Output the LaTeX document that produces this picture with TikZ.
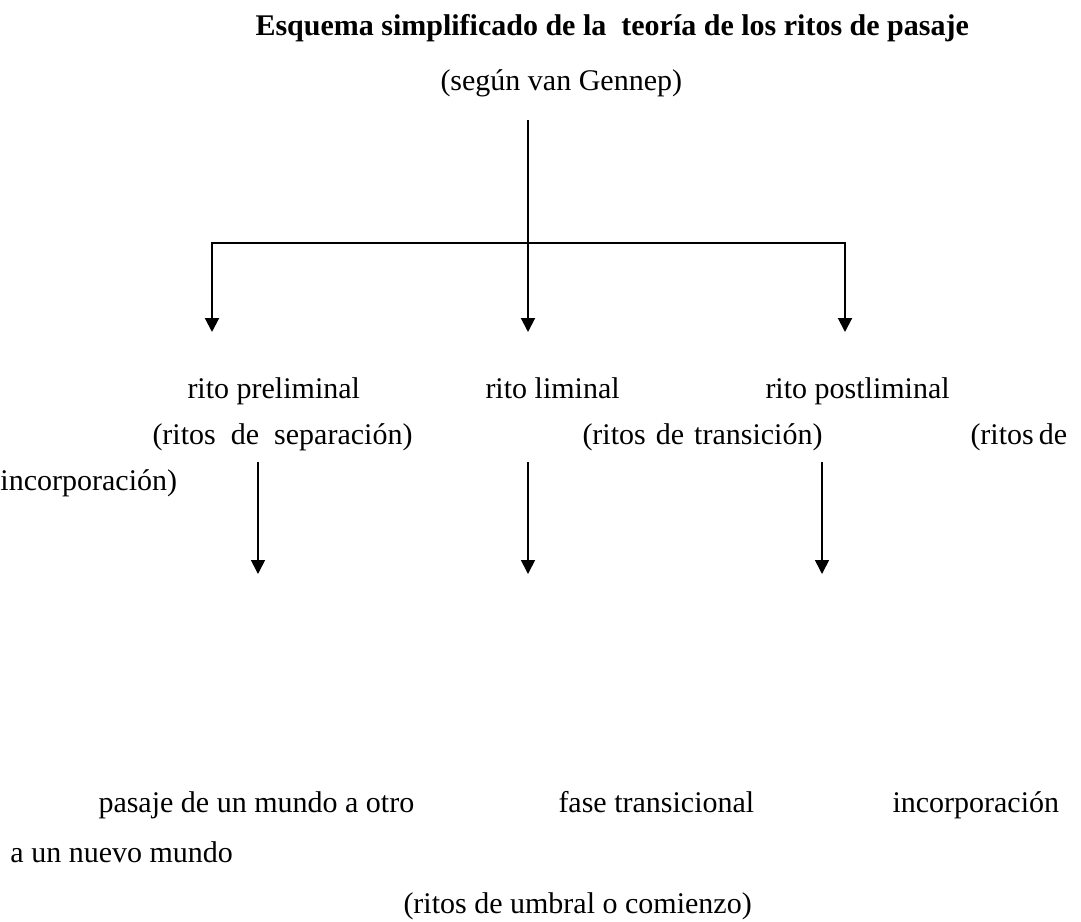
\documentclass[tikz,border=0pt]{standalone}
\usepackage{fontspec}
\setmainfont{Liberation Serif}
\usetikzlibrary{arrows.meta}
\begin{document}
\begin{tikzpicture}[x=0.4pt,y=-0.4pt,
  txt/.style={anchor=base west,inner sep=0pt,font=\fontsize{12}{14}\selectfont},
  ttl/.style={anchor=base west,inner sep=0pt,font=\fontsize{12}{14}\selectfont\bfseries},
  conn/.style={line width=0.8pt},
  arr/.style={line width=0.8pt,-{Triangle[width=5.6pt,length=5.6pt]}},
  arrb/.style={line width=0.65pt,-{Triangle[width=5.6pt,length=5.6pt]}}]
\useasboundingbox (0,0) rectangle (1081,921);
% titles
\node[ttl] (title) at (255,35) {Esquema simplificado de la\ \ teoría de los ritos de pasaje};
\node[txt] (sub) at (440,90) {(según van Gennep)};
% first level connectors
\coordinate (t0) at (528,120);
\coordinate (bm) at (528,243);
\coordinate (al) at (212,332);
\coordinate (am) at (528,332);
\coordinate (ar) at (845,332);
\draw[arr] (bm) -| (al);
\draw[arr] (bm) -| (ar);
\draw[arr] (t0) -- (am);
% second row
\node[txt] (pre) at (187,398) {rito preliminal};
\node[txt] (lim) at (485,398) {rito liminal};
\node[txt] (post) at (765,398) {rito postliminal};
\node[txt] (sep) at (152,444) {\makebox[104pt][s]{(ritos de separación)}};
\node[txt] (tra) at (582,444) {\makebox[96pt][s]{(ritos de transición)}};
\node[txt] (inc1) at (970,444) {\makebox[37.2pt][s]{(ritos de}};
\node[txt] (inc2) at (0,490) {incorporación)};
% second level connectors
\coordinate (s1) at (258,462);
\coordinate (e1) at (258,574);
\coordinate (s2) at (528,462);
\coordinate (e2) at (528,574);
\coordinate (s3) at (822,462);
\coordinate (e3) at (822,574);
\draw[arrb] (s1) -- (e1);
\draw[arrb] (s2) -- (e2);
\draw[arrb] (s3) -- (e3);
% bottom row
\node[txt] (pas) at (98,812) {pasaje de un mundo a otro};
\node[txt] (fase) at (558,812) {fase transicional};
\node[txt] (incb) at (892,812) {incorporación};
\node[txt] (nuevo) at (10,862) {a un nuevo mundo};
\node[txt] (umbral) at (403,913) {(ritos de umbral o comienzo)};
\end{tikzpicture}
\end{document}
